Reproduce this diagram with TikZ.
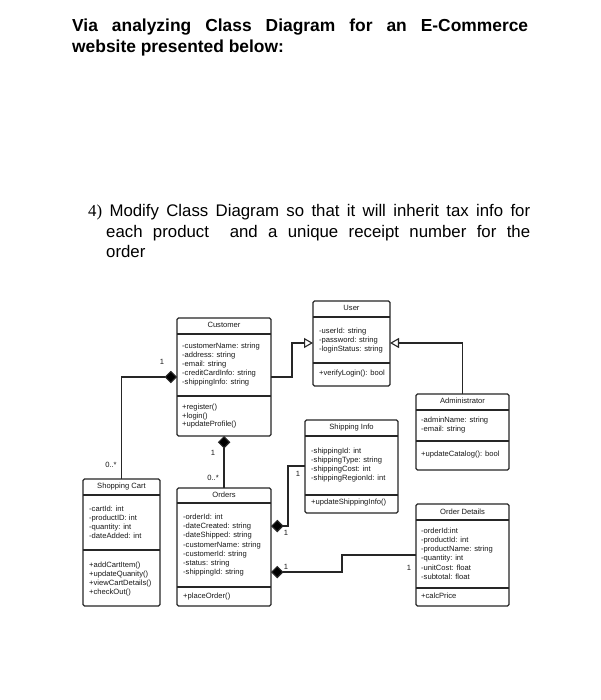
\documentclass[tikz,border=0pt]{standalone}
\usepackage{fontspec}
\setmainfont{Liberation Sans}
\newfontfamily\seriffont{Liberation Serif}
\usetikzlibrary{arrows.meta,calc}
\tikzset{
  cls/.style={draw=black!85, line width=1.1pt, rounded corners=1.5pt, anchor=north west, inner sep=0pt, outer sep=0pt, fill=white},
  sepl/.style={draw=black!85, line width=1.1pt},
  txt/.style={anchor=base west, inner sep=0pt, text=black!90, font=\fontsize{7.6}{9}\selectfont},
  ttl/.style={anchor=base, inner sep=0pt, text=black!90, font=\fontsize{7.6}{9}\selectfont},
  lbl/.style={anchor=center, inner sep=0pt, text=black!90, font=\fontsize{7.6}{9}\selectfont},
  comp/.style={draw=black!85, line width=1.1pt, {Diamond[length=12.5pt,width=12.5pt,fill=black]}-},
  gen/.style={draw=black!85, line width=1.1pt, -{Triangle[open,length=9pt,width=10pt]}},
}
\newcommand\umllines[5][9]{\foreach \t [count=\i] in {#5} {\node[txt] (#2-\i) at ({#3},{#4+#1*(\i-1)}) {\t};}}
\begin{document}
\begin{tikzpicture}[x=1pt,y=-1pt]
\useasboundingbox[fill=white] (0,0) rectangle (600,700);

% heading
\node[anchor=base west, inner sep=0pt, font=\fontsize{17.4}{21}\selectfont\bfseries] (h1) at (72,31.7) {\makebox[456pt][s]{Via analyzing Class Diagram for an E-Commerce}};
\node[anchor=base west, inner sep=0pt, font=\fontsize{17.4}{21}\selectfont\bfseries] (h2) at (72,52.7) {website presented below:};

\node[anchor=base west, inner sep=0pt, font=\fontsize{16.8}{20}\selectfont] (q1) at (88,216.7) {\makebox[442pt][s]{{\seriffont 4)} Modify Class Diagram so that it will inherit tax info for}};
\node[anchor=base west, inner sep=0pt, font=\fontsize{16.8}{20}\selectfont] (q2) at (106,237.3) {\makebox[424pt][s]{each product\ \ and a unique receipt number for the}};
\node[anchor=base west, inner sep=0pt, font=\fontsize{16.8}{20}\selectfont] (q3) at (106,257.3) {order};

% ---------- classes ----------
% Customer
\node[cls, minimum width=94pt, minimum height=118pt] (cust) at (177,318) {};
\draw[sepl] (cust.west|-0,334) -- (cust.east|-0,334);
\draw[sepl] (cust.west|-0,396) -- (cust.east|-0,396);
\node[ttl] (cust-t) at (224,327.5) {Customer};
\umllines{custa}{182}{348.7}{-customerName: string,-address: string,-email: string,-creditCardInfo: string,-shippingInfo: string}
\umllines[8.8]{custm}{182}{409.3}{+register(),+login(),+updateProfile()}

% User
\node[cls, minimum width=77pt, minimum height=85pt] (user) at (313,301) {};
\draw[sepl] (user.west|-0,317) -- (user.east|-0,317);
\draw[sepl] (user.west|-0,363) -- (user.east|-0,363);
\node[ttl] (user-t) at (351.5,310) {User};
\umllines{usera}{319}{333.3}{-userId: string,-password: string,-loginStatus: string}
\umllines{userm}{319}{375.7}{+verifyLogin(): bool}

% Administrator
\node[cls, minimum width=93pt, minimum height=76pt] (admin) at (416,394) {};
\draw[sepl] (admin.west|-0,410) -- (admin.east|-0,410);
\draw[sepl] (admin.west|-0,441) -- (admin.east|-0,441);
\node[ttl] (admin-t) at (462.5,403.7) {Administrator};
\umllines{admina}{421}{422.3}{-adminName: string,-email: string}
\umllines{adminm}{421}{456.7}{+updateCatalog(): bool}

% Shipping Info
\node[cls, minimum width=93pt, minimum height=93pt] (ship) at (305,420) {};
\draw[sepl] (ship.west|-0,436) -- (ship.east|-0,436);
\draw[sepl] (ship.west|-0,495) -- (ship.east|-0,495);
\node[ttl] (ship-t) at (351.5,429.3) {Shipping Info};
\umllines[9.2]{shipa}{311}{453.3}{-shippingId: int,-shippingType: string,-shippingCost: int,-shippingRegionId: int}
\umllines{shipm}{311}{504.3}{+updateShippingInfo()}

% Shopping Cart
\node[cls, minimum width=77pt, minimum height=127pt] (cart) at (83,479) {};
\draw[sepl] (cart.west|-0,495) -- (cart.east|-0,495);
\draw[sepl] (cart.west|-0,550) -- (cart.east|-0,550);
\node[ttl] (cart-t) at (121.5,488.7) {Shopping Cart};
\umllines{carta}{89}{511.3}{-cartId: int,-productID: int,-quantity: int,-dateAdded: int}
\umllines{cartm}{89}{567}{+addCartItem(),+updateQuanity(),+viewCartDetails(),+checkOut()}

% Orders
\node[cls, minimum width=94pt, minimum height=118pt] (ord) at (177,488) {};
\draw[sepl] (ord.west|-0,503) -- (ord.east|-0,503);
\draw[sepl] (ord.west|-0,587) -- (ord.east|-0,587);
\node[ttl] (ord-t) at (224,497) {Orders};
\umllines[9.1]{orda}{183}{519.7}{-orderId: int,-dateCreated: string,-dateShipped: string,-customerName: string,-customerId: string,-status: string,-shippingId: string}
\umllines{ordm}{183}{598.7}{+placeOrder()}

% Order Details
\node[cls, minimum width=93pt, minimum height=102pt] (od) at (416,504) {};
\draw[sepl] (od.west|-0,520) -- (od.east|-0,520);
\draw[sepl] (od.west|-0,588) -- (od.east|-0,588);
\node[ttl] (od-t) at (462.5,514.3) {Order Details};
\umllines[9.2]{oda}{421}{533.3}{-orderId:int,-productId: int,-productName: string,-quantity: int,-unitCost: float,-subtotal: float}
\umllines{odm}{421}{598.7}{+calcPrice}

% ---------- connectors ----------
\draw[comp] (cust.west|-0,377) -| (cart.north);
\node[lbl] (l1) at (162,362) {1};
\node[lbl] (l2) at (111,465) {0..*};

\draw[comp] (cust.south) -- (ord.north);
\node[lbl] (l3) at (213,452.7) {1};
\node[lbl] (l4) at (213,478.3) {0..*};

\draw[gen] (cust.east|-0,377) -- ++(21,0) |- (user.west|-0,343);
\draw[gen] (admin.north) |- (user.east|-0,343);

\draw[comp] (ord.east|-0,526) -- ++(17,0) |- (ship.west|-0,466);
\node[lbl] (l5) at (286,533) {1};
\node[lbl] (l6) at (298,474) {1};

\draw[comp] (ord.east|-0,572) -- ++(71,0) |- (od.west|-0,555);
\node[lbl] (l7) at (286,566.5) {1};
\node[lbl] (l8) at (409,568) {1};
\end{tikzpicture}
\end{document}
